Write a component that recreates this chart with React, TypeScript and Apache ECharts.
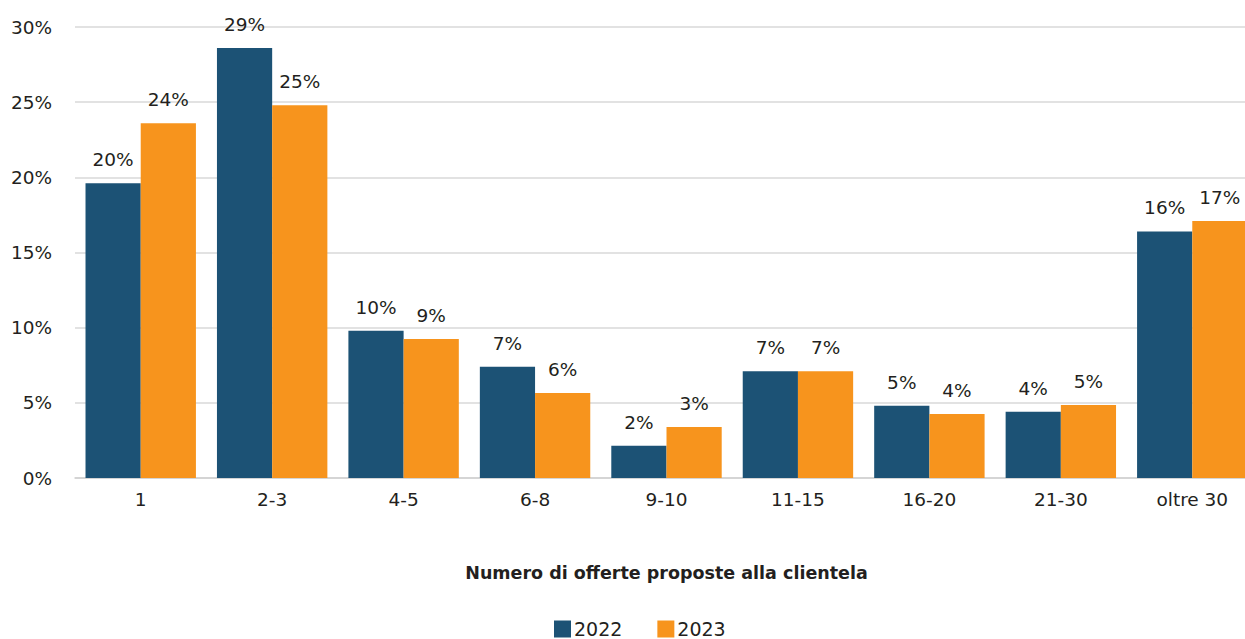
import React, { useEffect, useRef } from "react";
import * as echarts from "echarts";

const categories = ["1", "2-3", "4-5", "6-8", "9-10", "11-15", "16-20", "21-30", "oltre 30"];
const values2022 = [19.6, 28.6, 9.8, 7.4, 2.15, 7.1, 4.8, 4.4, 16.4];
const values2023 = [23.6, 24.8, 9.25, 5.65, 3.4, 7.1, 4.25, 4.85, 17.1];
const labels2022 = ["20%", "29%", "10%", "7%", "2%", "7%", "5%", "4%", "16%"];
const labels2023 = ["24%", "25%", "9%", "6%", "3%", "7%", "4%", "5%", "17%"];
const yTicks = [0, 5, 10, 15, 20, 25, 30];

const FONT = "'DejaVu Sans', sans-serif";
const TEXT = "#231f20";

export default function App() {
  const ref = useRef<HTMLDivElement>(null);
  useEffect(() => {
    if (!ref.current) return;
    const chart = echarts.init(ref.current, null, { renderer: "svg" });
    chart.setOption({
      animation: false,
      textStyle: { fontFamily: FONT },
      grid: { left: 75, right: 0, top: 27, bottom: 161, containLabel: false },
      legend: {
        top: 614,
        left: 549,
        itemWidth: 17,
        itemHeight: 17,
        itemGap: 35,
        icon: "rect",
        textStyle: {
          fontSize: 19,
          lineHeight: 20,
          color: TEXT,
          fontFamily: FONT,
          padding: [0, 0, 0, -2],
        },
        data: ["2022", "2023"],
      },
      xAxis: {
        type: "category",
        data: categories,
        axisTick: { show: false },
        axisLine: { lineStyle: { color: "#d0d0d0", width: 1.5 } },
        axisLabel: { color: TEXT, fontSize: 18.5, margin: 12, fontFamily: FONT },
        name: "Numero di offerte proposte alla clientela",
        nameLocation: "middle",
        nameGap: 86,
        nameTextStyle: { color: TEXT, fontSize: 17.5, fontWeight: "bold", fontFamily: FONT },
      },
      yAxis: {
        type: "value",
        min: yTicks[0],
        max: yTicks[yTicks.length - 1],
        interval: 5,
        axisLabel: {
          color: TEXT,
          fontSize: 18.5,
          margin: 23,
          fontFamily: FONT,
          formatter: (v: number) => `${v}%`,
        },
        splitLine: { lineStyle: { color: "#d9d9d9", width: 1.5 } },
        axisLine: { show: false },
        axisTick: { show: false },
      },
      series: [
        {
          name: "2022",
          type: "bar",
          data: values2022,
          barGap: "0%",
          barCategoryGap: "16%",
          itemStyle: { color: "#1c5275" },
          label: {
            show: true,
            position: "top",
            distance: 14,
            color: TEXT,
            fontSize: 18.5,
            fontFamily: FONT,
            formatter: (p: any) => labels2022[p.dataIndex],
          },
        },
        {
          name: "2023",
          type: "bar",
          data: values2023,
          barGap: "0%",
          barCategoryGap: "16%",
          itemStyle: { color: "#f7941d" },
          label: {
            show: true,
            position: "top",
            distance: 14,
            color: TEXT,
            fontSize: 18.5,
            fontFamily: FONT,
            formatter: (p: any) => labels2023[p.dataIndex],
          },
        },
      ],
    });
    return () => chart.dispose();
  }, []);
  return (
    <div
      ref={ref}
      style={{ position: "fixed", left: 0, top: 0, width: 1258, height: 639, background: "#fff" }}
    />
  );
}
